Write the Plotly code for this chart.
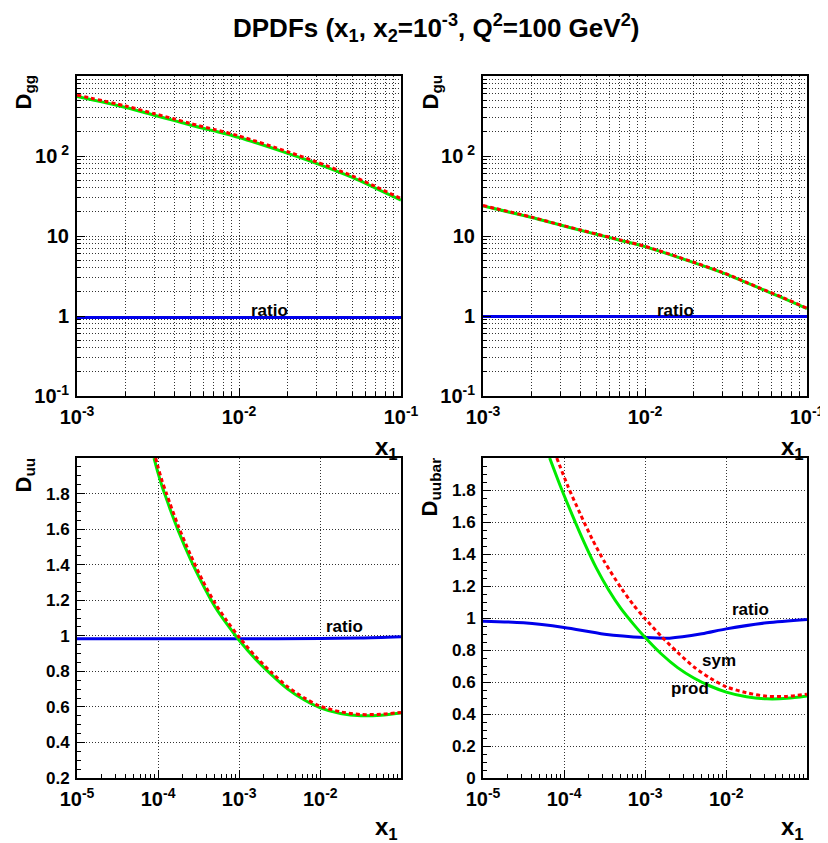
import plotly.graph_objects as go

# ---------------- data ----------------
# top panels: x1 from 1e-3 to 1e-1
x_top = [1e-3, 2e-3, 3e-3, 4e-3, 5e-3, 7e-3, 1e-2, 2e-2, 3e-2, 5e-2, 7e-2, 1e-1]
gg_prod = [553, 403, 323, 277, 244, 206, 170, 108, 81, 54, 39.5, 28.1]
gg_sym = [578, 421, 338, 290, 255, 215, 178, 113, 84.6, 56.4, 41.3, 29.4]
gg_ratio = [0.955, 0.956, 0.956, 0.957, 0.957, 0.957, 0.958, 0.958, 0.958, 0.958, 0.957, 0.956]

gu_prod = [23.7, 17.0, 13.7, 11.8, 10.5, 8.85, 7.36, 4.65, 3.48, 2.26, 1.70, 1.24]
gu_sym = [24.0, 17.2, 13.8, 11.9, 10.6, 8.95, 7.43, 4.70, 3.52, 2.28, 1.72, 1.25]
gu_ratio = [0.985, 0.985, 0.985, 0.985, 0.985, 0.985, 0.986, 0.986, 0.987, 0.988, 0.988, 0.988]

# bottom-left: D_uu
uu_prod_x = [8.91e-5, 1e-4, 1.122e-4, 1.259e-4, 1.413e-4, 1.778e-4, 2.512e-4, 3.548e-4, 5.012e-4,
             7.079e-4, 1e-3, 1.585e-3, 2.512e-3, 3.981e-3, 6.31e-3, 1e-2, 1.778e-2, 3.162e-2,
             5.623e-2, 9.9e-2]
uu_prod = [2.0, 1.915, 1.84, 1.775, 1.71, 1.59, 1.43, 1.29, 1.165,
           1.065, 0.975, 0.87, 0.78, 0.70, 0.64, 0.595, 0.563, 0.55,
           0.553, 0.566]
uu_sym_x = [9.33e-5, 1e-4, 1.122e-4, 1.259e-4, 1.413e-4, 1.778e-4, 2.512e-4, 3.548e-4, 5.012e-4,
            7.079e-4, 1e-3, 1.585e-3, 2.512e-3, 3.981e-3, 6.31e-3, 1e-2, 1.778e-2, 3.162e-2,
            5.623e-2, 9.9e-2]
uu_sym = [2.0, 1.948, 1.87, 1.805, 1.74, 1.617, 1.455, 1.31, 1.185,
          1.083, 0.992, 0.885, 0.793, 0.712, 0.651, 0.604, 0.572, 0.557,
          0.559, 0.569]
uu_ratio_x = [1e-5, 1e-4, 1e-3, 1e-2, 3.16e-2, 9.9e-2]
uu_ratio = [0.983, 0.983, 0.983, 0.985, 0.988, 0.995]

# bottom-right: D_uubar
uubar_prod_x = [6.64e-5, 8.91e-5, 1.259e-4, 1.778e-4, 2.512e-4, 3.548e-4, 5.012e-4, 7.079e-4, 1e-3,
                1.585e-3, 2.512e-3, 3.981e-3, 6.31e-3, 1e-2, 1.778e-2, 3.162e-2, 5.623e-2, 9.9e-2]
uubar_prod = [2.0, 1.83, 1.645, 1.47, 1.31, 1.175, 1.06, 0.965, 0.878,
              0.775, 0.69, 0.625, 0.575, 0.537, 0.508, 0.495, 0.498, 0.513]
uubar_sym_x = [8.13e-5, 1.122e-4, 1.585e-4, 2.239e-4, 3.162e-4, 5.012e-4, 7.079e-4, 1e-3,
               1.585e-3, 2.512e-3, 3.981e-3, 6.31e-3, 1e-2, 1.778e-2, 3.162e-2, 5.623e-2, 9.9e-2]
uubar_sym = [2.0, 1.82, 1.65, 1.49, 1.35, 1.19, 1.085, 0.995,
             0.885, 0.785, 0.695, 0.625, 0.57, 0.533, 0.511, 0.51, 0.524]
uubar_ratio_x = [1e-5, 3.16e-5, 1e-4, 3.16e-4, 1e-3, 2e-3, 5e-3, 1e-2, 3.16e-2, 9.9e-2]
uubar_ratio = [0.980, 0.970, 0.941, 0.899, 0.878, 0.874, 0.901, 0.932, 0.970, 0.991]

# tick labels
top_x_ticks = [1e-3, 1e-2, 1e-1]
top_x_text = ["10<sup>-3</sup>", "10<sup>-2</sup>", "10<sup>-1</sup>"]
top_y_ticks = [0.1, 1, 10, 100]
top_y_text = ["10<sup>-1</sup>", "1", "10", "10<sup> 2</sup>"]
bot_x_ticks = [1e-5, 1e-4, 1e-3, 1e-2]
bot_x_text = ["10<sup>-5</sup>", "10<sup>-4</sup>", "10<sup>-3</sup>", "10<sup>-2</sup>"]
bl_y_ticks = [0.2, 0.4, 0.6, 0.8, 1.0, 1.2, 1.4, 1.6, 1.8]
bl_y_text = ["0.2", "0.4", "0.6", "0.8", "1", "1.2", "1.4", "1.6", "1.8"]
br_y_ticks = [0, 0.2, 0.4, 0.6, 0.8, 1.0, 1.2, 1.4, 1.6, 1.8]
br_y_text = ["0", "0.2", "0.4", "0.6", "0.8", "1", "1.2", "1.4", "1.6", "1.8"]

title_text = "DPDFs (x<sub>1</sub>, x<sub>2</sub>=10<sup>-3</sup>, Q<sup>2</sup>=100 GeV<sup>2</sup>)"
y_titles = ["D<sub>gg</sub>", "D<sub>gu</sub>", "D<sub>uu</sub>", "D<sub>uubar</sub>"]

# ---------------- styling ----------------
# the page body adds an 8px margin, so the figure is 8px smaller and positions are shifted
OFF = 8
W, H = 820, 835
GREEN = "rgb(0,235,0)"
RED = "rgb(255,0,0)"
BLUE = "rgb(0,0,235)"
FONT = "Liberation Sans, Arial, sans-serif"
logfont = dict(family=FONT, size=20, color="black", weight="bold")
linfont = dict(family=FONT, size=17, color="black", weight="bold")
GRID = dict(gridcolor="#333333", griddash="1px,2px", gridwidth=1)


def minor_vals(e0, e1):
    out = []
    for e in range(e0, e1):
        for k in range(2, 10):
            out.append(k * 10.0 ** e)
    return out


def px_x(p):
    return (p - OFF) / W


def px_y(p):
    return 1 - (p - OFF) / H


dom_xl = [px_x(77), px_x(401)]
dom_xr = [px_x(483), px_x(807)]
dom_yt = [px_y(396), px_y(76)]
dom_yb = [px_y(778), px_y(458)]

fig = go.Figure()


def add_panel(idx, ratio_xy, prod_xy, sym_xy):
    xa = "x" if idx == 1 else f"x{idx}"
    ya = "y" if idx == 1 else f"y{idx}"
    common = dict(xaxis=xa, yaxis=ya, mode="lines", showlegend=False, hoverinfo="skip")
    fig.add_trace(go.Scatter(x=ratio_xy[0], y=ratio_xy[1],
                             line=dict(color=BLUE, width=3, shape="spline", smoothing=0.8), **common))
    fig.add_trace(go.Scatter(x=prod_xy[0], y=prod_xy[1],
                             line=dict(color=GREEN, width=3, shape="spline", smoothing=0.8), **common))
    fig.add_trace(go.Scatter(x=sym_xy[0], y=sym_xy[1],
                             line=dict(color=RED, width=3, dash="4px,3px", shape="spline", smoothing=0.8),
                             **common))


add_panel(1, (x_top, gg_ratio), (x_top, gg_prod), (x_top, gg_sym))
add_panel(2, (x_top, gu_ratio), (x_top, gu_prod), (x_top, gu_sym))
add_panel(3, (uu_ratio_x, uu_ratio), (uu_prod_x, uu_prod), (uu_sym_x, uu_sym))
add_panel(4, (uubar_ratio_x, uubar_ratio), (uubar_prod_x, uubar_prod), (uubar_sym_x, uubar_sym))

axis_common = dict(showline=True, linecolor="black", linewidth=2, mirror=True,
                   ticks="inside", tickcolor="black", tickwidth=1, ticklen=8,
                   zeroline=False, showgrid=True, automargin=False,
                   ticklabelstandoff=2, **GRID)

top_x = dict(axis_common, type="log", range=[-3, -1], tickmode="array",
             tickvals=top_x_ticks, ticktext=top_x_text, tickfont=logfont,
             minor=dict(tickmode="array", tickvals=minor_vals(-3, -1), ticks="inside", ticklen=4,
                        tickcolor="black", showgrid=True, **GRID))
top_y = dict(axis_common, type="log", range=[-1, 3], tickmode="array",
             tickvals=top_y_ticks, ticktext=top_y_text, tickfont=logfont,
             minor=dict(tickmode="array", tickvals=minor_vals(-1, 3), ticks="inside", ticklen=4,
                        tickcolor="black", showgrid=True, **GRID))
bot_x = dict(axis_common, type="log", range=[-5, -1.004], tickmode="array",
             tickvals=bot_x_ticks, ticktext=bot_x_text, tickfont=logfont,
             minor=dict(tickmode="array", tickvals=minor_vals(-5, -1), ticks="inside", ticklen=4,
                        tickcolor="black", showgrid=False))
bl_y = dict(axis_common, range=[0.2, 2.0], tickmode="array", tickvals=bl_y_ticks, ticktext=bl_y_text,
            tickfont=linfont,
            minor=dict(dtick=0.05, tick0=0, ticks="inside", ticklen=4, tickcolor="black", showgrid=False))
br_y = dict(axis_common, range=[0.0, 2.0], tickmode="array", tickvals=br_y_ticks, ticktext=br_y_text,
            tickfont=linfont,
            minor=dict(dtick=0.05, tick0=0, ticks="inside", ticklen=4, tickcolor="black", showgrid=False))

fig.update_layout(
    width=W, height=H,
    margin=dict(l=0, r=0, t=0, b=0, autoexpand=False),
    paper_bgcolor="white", plot_bgcolor="white",
    showlegend=False,
    xaxis=dict(top_x, domain=dom_xl, anchor="y"),
    yaxis=dict(top_y, domain=dom_yt, anchor="x"),
    xaxis2=dict(top_x, domain=dom_xr, anchor="y2"),
    yaxis2=dict(top_y, domain=dom_yt, anchor="x2"),
    xaxis3=dict(bot_x, domain=dom_xl, anchor="y3"),
    yaxis3=dict(bl_y, domain=dom_yb, anchor="x3"),
    xaxis4=dict(bot_x, domain=dom_xr, anchor="y4"),
    yaxis4=dict(br_y, domain=dom_yb, anchor="x4"),
)

ann = []
# title
ann.append(dict(text=title_text, x=px_x(436), y=px_y(28), xref="paper", yref="paper",
                xanchor="center", yanchor="middle", showarrow=False,
                font=dict(family=FONT, size=26, color="black", weight="bold")))
# y-axis titles (rotated)
ytitle_pos = [(24, 73), (431, 73), (24, 456), (430, 456)]
for t, (px, py) in zip(y_titles, ytitle_pos):
    ann.append(dict(text=t, x=px_x(px), y=px_y(py), xref="paper", yref="paper", textangle=-90,
                    xanchor="center", yanchor="top", showarrow=False,
                    font=dict(family=FONT, size=22, color="black", weight="bold")))
# x-axis titles
xtitle_pos = [(400, 448), (806, 448), (400, 828), (806, 828)]
for px, py in xtitle_pos:
    ann.append(dict(text="x<sub>1</sub>", x=px_x(px), y=px_y(py), xref="paper", yref="paper",
                    xanchor="right", yanchor="middle", showarrow=False,
                    font=dict(family=FONT, size=24, color="black", weight="bold")))
# curve labels (x in log10 units for log axes)
curve_labels = [
    ("ratio", "x", "y", -1.81, 0.075),
    ("ratio", "x2", "y2", -1.81, 0.075),
    ("ratio", "x3", "y3", -1.70, 1.05),
    ("ratio", "x4", "y4", -1.695, 1.056),
    ("sym", "x4", "y4", -2.095, 0.732),
    ("prod", "x4", "y4", -2.453, 0.559),
]
for t, xr_, yr_, lx, ly in curve_labels:
    ann.append(dict(text=t, x=lx, y=ly, xref=xr_, yref=yr_, xanchor="center", yanchor="middle",
                    showarrow=False, font=dict(family=FONT, size=17, color="black", weight="bold")))

fig.update_layout(annotations=ann)
fig.write_html("out.html")
